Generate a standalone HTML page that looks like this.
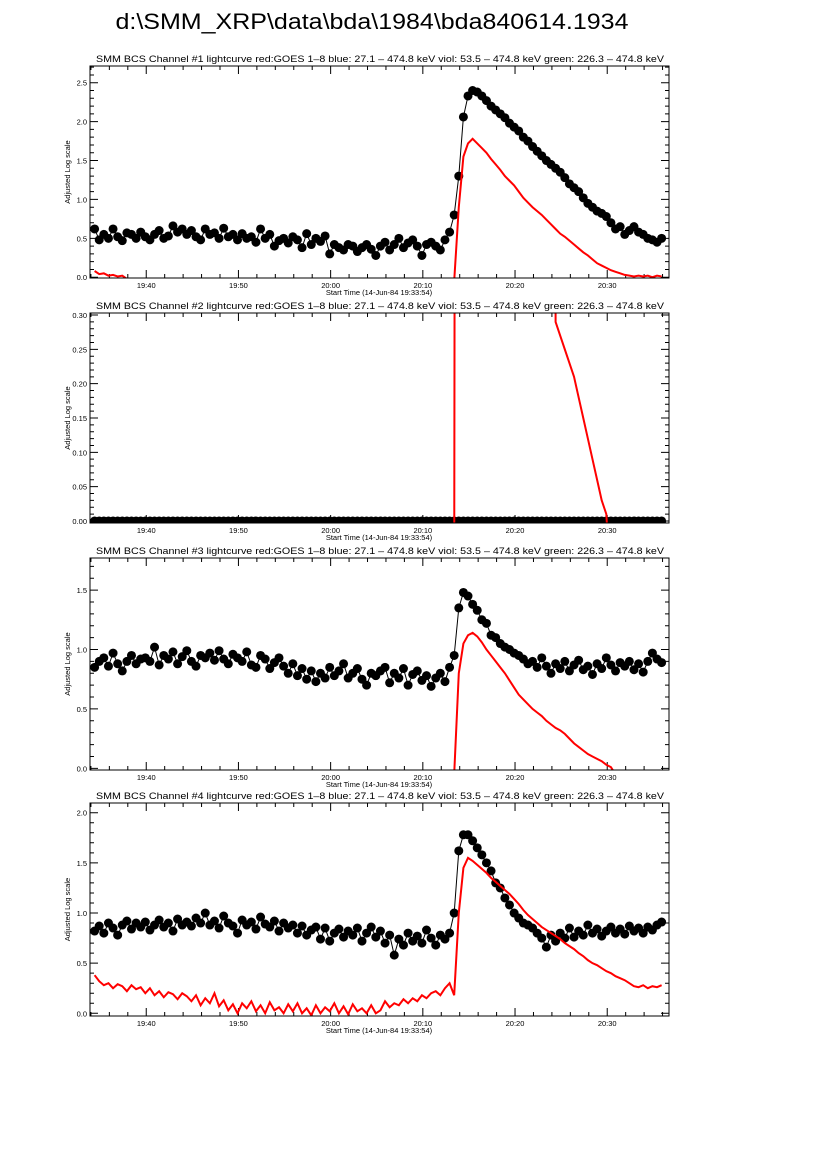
<!DOCTYPE html>
<html><head><meta charset="utf-8"><style>
html,body{margin:0;padding:0;background:#fff;}
svg{display:block;font-family:"Liberation Sans",sans-serif;}
</style></head><body>
<svg id="fig" width="826" height="1169" viewBox="0 0 826 1169">
<text x="372" y="29" font-size="22" text-anchor="middle" textLength="513" lengthAdjust="spacingAndGlyphs">d:\SMM_XRP\data\bda\1984\bda840614.1934</text>
</svg>
<script>
// Times in minutes since 19:33:54
const dotT=[0.5,1,1.5,2,2.5,3,3.5,4,4.5,5,5.5,6,6.5,7,7.5,8,8.5,9,9.5,10,10.5,11,11.5,12,12.5,13,13.5,14,14.5,15,15.5,16,16.5,17,17.5,18,18.5,19,19.5,20,20.5,21,21.5,22,22.5,23,23.5,24,24.5,25,25.5,26,26.5,27,27.5,28,28.5,29,29.5,30,30.5,31,31.5,32,32.5,33,33.5,34,34.5,35,35.5,36,36.5,37,37.5,38,38.5,39,39.5,40,40.5,41,41.5,42,42.5,43,43.5,44,44.5,45,45.5,46,46.5,47,47.5,48,48.5,49,49.5,50,50.5,51,51.5,52,52.5,53,53.5,54,54.5,55,55.5,56,56.5,57,57.5,58,58.5,59,59.5,60,60.5,61,61.5,62];
const xTickMinutes=[6.1,16.1,26.1,36.1,46.1,56.1];
const xTickLabels=["19:40","19:50","20:00","20:10","20:20","20:30"];

const bcs1=[0.62,0.48,0.55,0.5,0.62,0.52,0.47,0.57,0.55,0.5,0.58,
0.52,0.48,0.55,0.6,0.5,0.53,0.66,0.58,0.62,0.55,
0.6,0.52,0.48,0.62,0.55,0.57,0.5,0.63,0.52,0.55,
0.48,0.56,0.5,0.52,0.45,0.62,0.5,0.55,0.4,0.47,
0.5,0.44,0.52,0.48,0.38,0.56,0.42,0.5,0.46,0.53,
0.3,0.42,0.38,0.35,0.42,0.4,0.33,0.38,0.42,0.36,
0.28,0.4,0.45,0.35,0.42,0.5,0.38,0.44,0.48,0.4,
0.28,0.42,0.45,0.4,0.35,0.48,
0.58,0.8,1.3,2.06,2.33,2.4,
2.38,2.33,2.27,2.2,2.15,2.1,2.05,1.98,1.93,1.88,1.8,1.75,1.68,1.62,1.56,1.5,1.45,1.4,1.35,1.28,1.2,1.15,1.1,1.02,0.95,0.9,0.85,0.82,0.78,0.7,0.62,0.65,0.55,0.6,0.65,0.58,0.55,0.5,0.48,0.45,0.5];
const goes1=[0.08,0.04,0.05,0.02,0.03,0.01,0.02,-0.02,-0.05,-0.05,-0.05,
-0.05,-0.05,-0.05,-0.05,-0.05,-0.05,-0.05,-0.05,-0.05,-0.05,
-0.05,-0.05,-0.05,-0.05,-0.05,-0.05,-0.05,-0.05,-0.05,-0.05,
-0.05,-0.05,-0.05,-0.05,-0.05,-0.05,-0.05,-0.05,-0.05,-0.05,
-0.05,-0.05,-0.05,-0.05,-0.05,-0.05,-0.05,-0.05,-0.05,-0.05,
-0.05,-0.05,-0.05,-0.05,-0.05,-0.05,-0.05,-0.05,-0.05,-0.05,
-0.05,-0.05,-0.05,-0.05,-0.05,-0.05,-0.05,-0.05,-0.05,-0.05,
-0.05,-0.05,-0.05,-0.05,-0.05,-0.05,
-0.05,-0.05,0.9,1.55,1.72,1.78,
1.72,1.66,1.6,1.52,1.45,1.38,1.3,1.24,1.18,1.1,1.02,0.96,0.9,0.85,0.8,0.74,0.68,0.62,0.56,0.52,0.47,0.42,0.37,0.32,0.28,0.23,0.18,0.15,0.12,0.09,0.07,0.05,0.03,0.02,0.01,0.02,0.01,0.02,0.0,0.02,0.01];

const bcs2=[0,0,0,0,0,0,0,0,0,0,0,0,0,0,0,0,0,0,0,0,0,0,0,0,0,0,0,0,0,0,0,0,0,0,0,0,0,0,0,0,0,0,0,0,0,0,0,0,0,0,0,0,0,0,0,0,0,0,0,0,0,0,0,0,0,0,0,0,0,0,0,0,0,0,0,0,0,0,0,0,0,0,0,0,0,0,0,0,0,0,0,0,0,0,0,0,0,0,0,0,0,0,0,0,0,0,0,0,0,0,0,0,0,0,0,0,0,0,0,0,0,0,0,0];
const goes2=[-0.1,-0.1,-0.1,-0.1,-0.1,-0.1,-0.1,-0.1,-0.1,-0.1,-0.1,
-0.1,-0.1,-0.1,-0.1,-0.1,-0.1,-0.1,-0.1,-0.1,-0.1,
-0.1,-0.1,-0.1,-0.1,-0.1,-0.1,-0.1,-0.1,-0.1,-0.1,
-0.1,-0.1,-0.1,-0.1,-0.1,-0.1,-0.1,-0.1,-0.1,-0.1,
-0.1,-0.1,-0.1,-0.1,-0.1,-0.1,-0.1,-0.1,-0.1,-0.1,
-0.1,-0.1,-0.1,-0.1,-0.1,-0.1,-0.1,-0.1,-0.1,-0.1,
-0.1,-0.1,-0.1,-0.1,-0.1,-0.1,-0.1,-0.1,-0.1,-0.1,
-0.1,-0.1,-0.1,-0.1,-0.1,-0.1,
-0.1,-0.1,5,5,5,5,
5,5,5,5,5,5,5,5,5,5,5,5,5,5,5,5,5,0.29,0.27,0.25,0.23,0.21,0.18,0.15,0.12,0.09,0.06,0.03,0.01,-0.1,-0.1,-0.1,-0.1,-0.1,-0.1,-0.1,-0.1,-0.1,-0.1,-0.1,-0.1];

const bcs3=[0.85,0.9,0.93,0.86,0.97,0.88,0.82,0.9,0.95,0.88,0.92,
0.93,0.9,1.02,0.87,0.95,0.92,0.98,0.88,0.94,0.99,
0.9,0.86,0.95,0.93,0.97,0.91,0.99,0.92,0.88,0.96,
0.93,0.9,0.98,0.87,0.85,0.95,0.92,0.84,0.89,0.93,
0.86,0.8,0.88,0.78,0.84,0.75,0.82,0.73,0.8,0.76,
0.85,0.78,0.82,0.88,0.76,0.8,0.84,0.75,0.7,0.8,
0.78,0.82,0.85,0.72,0.8,0.76,0.84,0.7,0.79,0.82,
0.74,0.78,0.69,0.76,0.8,0.73,
0.85,0.95,1.35,1.48,1.45,1.38,
1.33,1.25,1.22,1.12,1.1,1.05,1.02,1.0,0.97,0.95,0.92,0.88,0.9,0.85,0.93,0.86,0.8,0.88,0.84,0.9,0.82,0.87,0.91,0.83,0.86,0.79,0.88,0.84,0.93,0.87,0.82,0.89,0.86,0.9,0.83,0.88,0.81,0.9,0.97,0.92,0.89];
const goes3=[-0.05,-0.05,-0.05,-0.05,-0.05,-0.05,-0.05,-0.05,-0.05,-0.05,-0.05,
-0.05,-0.05,-0.05,-0.05,-0.05,-0.05,-0.05,-0.05,-0.05,-0.05,
-0.05,-0.05,-0.05,-0.05,-0.05,-0.05,-0.05,-0.05,-0.05,-0.05,
-0.05,-0.05,-0.05,-0.05,-0.05,-0.05,-0.05,-0.05,-0.05,-0.05,
-0.05,-0.05,-0.05,-0.05,-0.05,-0.05,-0.05,-0.05,-0.05,-0.05,
-0.05,-0.05,-0.05,-0.05,-0.05,-0.05,-0.05,-0.05,-0.05,-0.05,
-0.05,-0.05,-0.05,-0.05,-0.05,-0.05,-0.05,-0.05,-0.05,-0.05,
-0.05,-0.05,-0.05,-0.05,-0.05,-0.05,
-0.05,-0.05,0.8,1.05,1.12,1.14,
1.11,1.06,1.0,0.95,0.9,0.85,0.8,0.74,0.68,0.62,0.58,0.54,0.5,0.47,0.44,0.4,0.37,0.34,0.32,0.29,0.25,0.21,0.18,0.15,0.12,0.1,0.08,0.06,0.03,0.01,-0.05,-0.05,-0.05,-0.05,-0.05,-0.05,-0.05,-0.05,-0.05,-0.05,-0.05];

const bcs4=[0.82,0.87,0.8,0.9,0.85,0.78,0.88,0.92,0.84,0.9,0.86,
0.91,0.83,0.88,0.93,0.86,0.9,0.82,0.94,0.88,0.91,
0.87,0.95,0.9,1.0,0.88,0.92,0.85,0.97,0.9,0.87,
0.8,0.93,0.88,0.91,0.84,0.96,0.89,0.86,0.92,0.82,
0.9,0.85,0.88,0.8,0.87,0.78,0.83,0.86,0.74,0.85,
0.72,0.8,0.84,0.76,0.82,0.78,0.85,0.72,0.8,0.86,
0.76,0.82,0.7,0.78,0.58,0.74,0.68,0.8,0.72,0.77,
0.7,0.83,0.75,0.68,0.78,0.74,
0.8,1.0,1.62,1.78,1.78,1.72,
1.65,1.58,1.5,1.42,1.3,1.25,1.15,1.08,1.0,0.95,0.9,0.88,0.85,0.8,0.75,0.66,0.78,0.72,0.8,0.75,0.85,0.76,0.82,0.78,0.88,0.8,0.84,0.77,0.82,0.86,0.8,0.84,0.79,0.87,0.82,0.85,0.8,0.86,0.83,0.88,0.91];
const goes4=[0.38,0.32,0.28,0.3,0.25,0.29,0.27,0.22,0.28,0.24,0.26,
0.2,0.25,0.18,0.22,0.16,0.21,0.19,0.14,0.2,0.17,
0.12,0.18,0.08,0.15,0.1,0.2,0.07,0.13,0.03,0.09,
0.0,0.1,0.05,0.12,0.02,0.08,0.0,0.11,0.03,0.06,
0.0,0.09,0.02,0.1,0.0,0.05,-0.02,0.08,0.0,0.06,
0.02,0.1,0.0,0.07,-0.01,0.09,0.02,0.05,0.0,0.08,
0.0,0.03,0.12,0.06,0.1,0.08,0.14,0.1,0.15,0.12,
0.18,0.15,0.2,0.22,0.18,0.25,
0.3,0.18,1.0,1.45,1.55,1.52,
1.48,1.44,1.4,1.35,1.31,1.27,1.23,1.19,1.14,1.09,1.03,0.98,0.94,0.9,0.86,0.83,0.8,0.77,0.74,0.7,0.67,0.64,0.6,0.57,0.53,0.5,0.48,0.45,0.42,0.4,0.37,0.35,0.33,0.3,0.27,0.26,0.28,0.25,0.27,0.26,0.28];

const yTicks1=[0,0.5,1,1.5,2,2.5], yLabels1=["0.0","0.5","1.0","1.5","2.0","2.5"];
const yTicks2=[0,0.05,0.1,0.15,0.2,0.25,0.3], yLabels2=["0.00","0.05","0.10","0.15","0.20","0.25","0.30"];
const yTicks3=[0,0.5,1,1.5], yLabels3=["0.0","0.5","1.0","1.5"];
const yTicks4=[0,0.5,1,1.5,2], yLabels4=["0.0","0.5","1.0","1.5","2.0"];

const NS="http://www.w3.org/2000/svg";
const svg=document.getElementById('fig');
function mk(tag,attrs,parent){const e=document.createElementNS(NS,tag);for(const k in attrs)e.setAttribute(k,attrs[k]);(parent||svg).appendChild(e);return e;}
const X0=90,X1=669,TMAX=62.8;
function xs(t){return X0+t/TMAX*(X1-X0);}

const panels=[
 {n:1,top:66,bot:278,ymin:-0.01,ymax:2.715,major:0.5,minor:0.1,yt:yTicks1,yl:yLabels1,bcs:bcs1,goes:goes1},
 {n:2,top:313,bot:523,ymin:-0.003,ymax:0.303,major:0.05,minor:0.01,yt:yTicks2,yl:yLabels2,bcs:bcs2,goes:goes2},
 {n:3,top:558,bot:770,ymin:-0.014,ymax:1.77,major:0.5,minor:0.1,yt:yTicks3,yl:yLabels3,bcs:bcs3,goes:goes3},
 {n:4,top:803,bot:1016,ymin:-0.027,ymax:2.097,major:0.5,minor:0.1,yt:yTicks4,yl:yLabels4,bcs:bcs4,goes:goes4}
];
panels.forEach(p=>{
 const g=mk('g',{});
 
 
 const ys=v=>p.bot-(v-p.ymin)/(p.ymax-p.ymin)*(p.bot-p.top);
 const cid='clip'+p.n;
 const cp=mk('clipPath',{id:cid},g);
 mk('rect',{x:X0,y:p.top,width:X1-X0,height:p.bot-p.top},cp);
 const tt=mk('text',{x:380,y:p.top-4,'font-size':9,'text-anchor':'middle',textLength:568,lengthAdjust:'spacingAndGlyphs'},g);
 tt.textContent='SMM BCS Channel #'+p.n+' lightcurve  red:GOES 1\u20138  blue: 27.1 \u2013 474.8 keV  viol: 53.5 \u2013 474.8 keV  green: 226.3 \u2013 474.8 keV';
 
 
 const yc=(p.top+p.bot)/2;
 const yl=mk('text',{x:70,y:yc,'font-size':7.5,'text-anchor':'middle',transform:'rotate(-90 70 '+yc+')'},g);
 yl.textContent='Adjusted Log scale';
 
 
 const xl=mk('text',{x:379,y:p.bot+17,'font-size':7.5,'text-anchor':'middle'},g);
 xl.textContent='Start Time (14-Jun-84 19:33:54)';
 
 
 let d='';
 for(let m=0;m<=TMAX;m+=2){const tt2=m+0.1;if(tt2>TMAX)break;const x=xs(tt2);const isMaj=xTickMinutes.some(v=>Math.abs(v-tt2)<0.01);const L=isMaj?8:4;d+=`M${x} ${p.bot}v${-L}M${x} ${p.top}v${L}`;}
 const nMin=Math.round((p.ymax-p.ymin)/p.minor)+2;
 for(let i=0;i<nMin;i++){const v=i*p.minor;if(v>p.ymax)break;const y=ys(v);const isMaj=Math.abs(v/p.major-Math.round(v/p.major))<1e-6;const L=isMaj?8:4;d+=`M${X0} ${y}h${L}M${X1} ${y}h${-L}`;}
 mk('path',{d:d,stroke:'#000','stroke-width':1,fill:'none'},g);
 xTickLabels.forEach((lab,i)=>{const t=mk('text',{x:xs(xTickMinutes[i]),y:p.bot+10,'font-size':7.5,'text-anchor':'middle'},g);t.textContent=lab;
  
  });
 p.yt.forEach((v,i)=>{const t=mk('text',{x:X0-3,y:ys(v)+3,'font-size':7.5,'text-anchor':'end'},g);t.textContent=p.yl[i];
  
  });
 const sg=mk('g',{'clip-path':'url(#'+cid+')'},g);
 const bl=mk('polyline',{points:dotT.map((t,i)=>xs(t)+','+ys(p.bcs[i])).join(' '),fill:'none',stroke:'#000','stroke-width':1},sg);
 
 
 dotT.forEach((t,i)=>{const c=mk('circle',{cx:xs(t),cy:ys(p.bcs[i]),r:4.5,fill:'#000'},sg);
  
  });
 const rl=mk('polyline',{points:dotT.map((t,i)=>xs(t)+','+ys(p.goes[i])).join(' '),fill:'none',stroke:'#f00','stroke-width':2},sg);
 
 
 const fr=mk('rect',{x:X0,y:p.top,width:X1-X0,height:p.bot-p.top,fill:'none',stroke:'#000','stroke-width':1},g);
 
 
});
</script>
</body></html>
